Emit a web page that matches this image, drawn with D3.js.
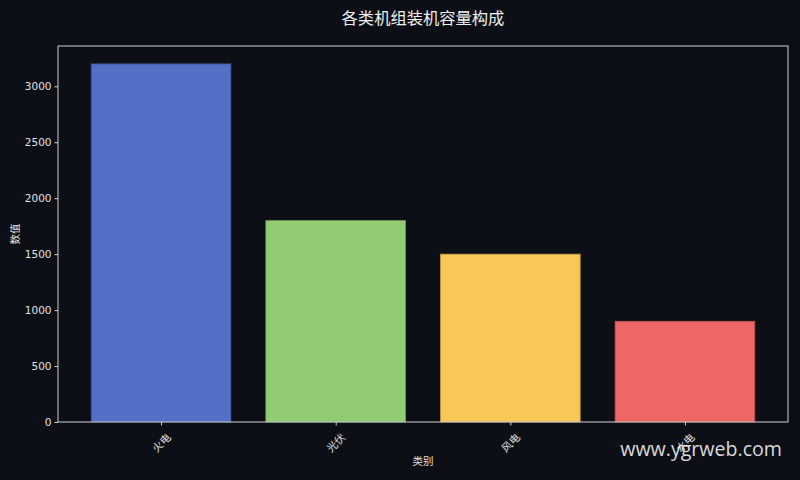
<!DOCTYPE html>
<html><head><meta charset="utf-8">
<script src="https://cdn.jsdelivr.net/npm/d3@7"></script>
<style>
html,body{margin:0;padding:0;background:#0c0f15;}
svg{display:block;}
text{font-family:"Noto Sans CJK SC","DejaVu Sans",sans-serif;}
</style></head>
<body>
<svg id="c" width="800" height="480"></svg>
<script>
const categories = ["火电", "光伏", "风电", "水电"];
const values = [3200, 1800, 1500, 900];
const colors = ["#5470c6", "#91cc75", "#fac858", "#ee6666"];
const yTicks = [0, 500, 1000, 1500, 2000, 2500, 3000];

const svg = d3.select("#c");
const W = 800, H = 480;
const m = {l: 58, r: 12, t: 46, b: 58};
const x0 = m.l, x1 = W - m.r, y0 = H - m.b, y1 = m.t;

svg.append("rect").attr("width", W).attr("height", H).attr("fill", "#0c0f15");

const n = categories.length;
const x = d3.scaleLinear().domain([-0.4 - 0.19, n - 1 + 0.4 + 0.19]).range([x0, x1]);
const y = d3.scaleLinear().domain([0, d3.max(values) * 1.05]).range([y0, y1]);

svg.selectAll("rect.bar").data(values).enter().append("rect")
  .attr("class", "bar")
  .attr("x", (d, i) => x(i - 0.4))
  .attr("width", (d, i) => x(i + 0.4) - x(i - 0.4))
  .attr("y", d => y(d))
  .attr("height", d => y(0) - y(d))
  .attr("fill", (d, i) => colors[i])
  .attr("stroke", (d, i) => d3.color(colors[i]).darker(0.8))
  .attr("stroke-width", 0.8);

// spines
svg.append("rect").attr("x", x0).attr("y", y1).attr("width", x1 - x0).attr("height", y0 - y1)
  .attr("fill", "none").attr("stroke", "#d0d0d0").attr("stroke-width", 1);

// y axis
const yAxis = d3.axisLeft(y).tickValues(yTicks).tickSize(3.5).tickPadding(3).tickFormat(d3.format("d"));
const gy = svg.append("g").attr("transform", `translate(${x0},0)`).call(yAxis);
gy.select(".domain").remove();
gy.selectAll("line").attr("stroke", "#d0d0d0");
gy.selectAll("text").attr("fill", "#e0e0e0").attr("font-size", 10.5).style("font-family", "'DejaVu Sans',sans-serif");

// x axis
const xAxis = d3.axisBottom(x).tickValues(d3.range(n)).tickSize(3.5).tickFormat(i => categories[i]);
const gx = svg.append("g").attr("transform", `translate(0,${y0})`).call(xAxis);
gx.select(".domain").remove();
gx.selectAll("line").attr("stroke", "#d0d0d0");
gx.selectAll("text")
  .attr("fill", "#e0e0e0").attr("font-size", 10.5)
  .attr("y", 0).attr("dy", "0.35em")
  .attr("text-anchor", "middle")
  .attr("transform", "translate(0,21) rotate(-45)");

// axis labels
svg.append("text").attr("x", (x0 + x1) / 2).attr("y", 465).attr("text-anchor", "middle")
  .attr("fill", "#e0e0e0").attr("font-size", 10.5).text("类别");
svg.append("text").attr("transform", `translate(19,${(y0 + y1) / 2}) rotate(-90)`).attr("text-anchor", "middle")
  .attr("fill", "#e0e0e0").attr("font-size", 10.5).text("数值");

// title
svg.append("text").attr("x", 423).attr("y", 24).attr("text-anchor", "middle")
  .attr("fill", "#f0f0f0").attr("font-size", 16.3).text("各类机组装机容量构成");

// watermark
svg.append("text").attr("x", 782).attr("y", 456).attr("text-anchor", "end")
  .attr("fill", "#ffffff").attr("fill-opacity", 0.85).attr("font-size", 19.6)
  .style("font-family", "'Open Sans','Noto Sans',sans-serif").text("www.ygrweb.com");
</script>
</body></html>
